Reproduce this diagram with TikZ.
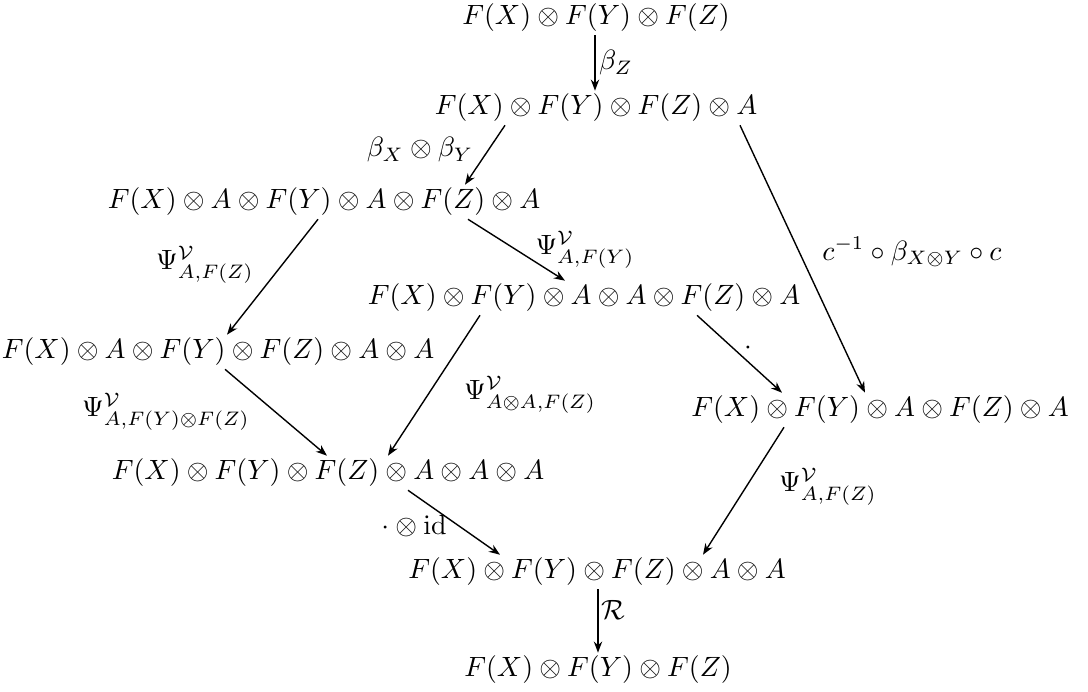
\documentclass[tikz,border=0pt]{standalone}
\usetikzlibrary{arrows.meta}
\begin{document}
\begin{tikzpicture}[x=0.0126cm,y=-0.0126cm,
  obj/.style={inner sep=1pt},
  lab/.style={inner sep=0pt},
  arr/.style={-{Stealth[length=4pt,width=3pt]}, line width=0.5pt}]
\useasboundingbox (0,0) rectangle (1088,692);
% objects
\node[obj] (n1) at (596,18)  {$F(X)\otimes F(Y)\otimes F(Z)$};
\node[obj] (n2) at (596,108) {$F(X)\otimes F(Y)\otimes F(Z)\otimes A$};
\node[obj] (n3) at (324,202) {$F(X)\otimes A\otimes F(Y)\otimes A\otimes F(Z)\otimes A$};
\node[obj] (n4) at (584,298) {$F(X)\otimes F(Y)\otimes A\otimes A\otimes F(Z)\otimes A$};
\node[obj] (n5) at (218,352) {$F(X)\otimes A\otimes F(Y)\otimes F(Z)\otimes A\otimes A$};
\node[obj] (n6) at (880,410) {$F(X)\otimes F(Y)\otimes A\otimes F(Z)\otimes A$};
\node[obj] (n7) at (328,473) {$F(X)\otimes F(Y)\otimes F(Z)\otimes A\otimes A\otimes A$};
\node[obj] (n8) at (597,572) {$F(X)\otimes F(Y)\otimes F(Z)\otimes A\otimes A$};
\node[obj] (n9) at (598,670) {$F(X)\otimes F(Y)\otimes F(Z)$};
% arrows
\draw[arr] (n1.south -| 595,0) -- (n2.north -| 595,0);
\draw[arr] (n2.south -| 505,0) -- (n3.north -| 465,0);
\draw[arr] (n2.south -| 740,0) -- (n6.north -| 865,0);
\draw[arr] (n3.south -| 318,0) -- (n5.north -| 227,0);
\draw[arr] (n3.south -| 468,0) -- (n4.north -| 565,0);
\draw[arr] (n4.south -| 697,0) -- (n6.north -| 782,0);
\draw[arr] (n4.south -| 480,0) -- (n7.north -| 388,0);
\draw[arr] (n5.south -| 225,0) -- (n7.north -| 327,0);
\draw[arr] (n6.south -| 784,0) -- (n8.north -| 703,0);
\draw[arr] (n7.south -| 408,0) -- (n8.north -| 500,0);
\draw[arr] (n8.south -| 598,0) -- (n9.north -| 598,0);
% labels
\node[lab] (l1) at (616,63) {$\beta_Z$};
\node[lab] (l2) at (420,150) {$\beta_X\otimes\beta_Y$};
\node[lab] (l3) at (912,252) {$c^{-1}\circ\beta_{X\otimes Y}\circ c$};
\node[lab] (l4) at (205,265) {$\Psi^{\mathcal{V}}_{A,F(Z)}$};
\node[lab] (l5) at (585,250) {$\Psi^{\mathcal{V}}_{A,F(Y)}$};
\node[lab] (l6) at (748,348) {$\cdot$};
\node[lab] (l7) at (530,395) {$\Psi^{\mathcal{V}}_{A\otimes A,F(Z)}$};
\node[lab] (l8) at (166,412) {$\Psi^{\mathcal{V}}_{A,F(Y)\otimes F(Z)}$};
\node[lab] (l9) at (828,487) {$\Psi^{\mathcal{V}}_{A,F(Z)}$};
\node[lab] (l10) at (414,526) {$\cdot\otimes\mathrm{id}$};
\node[lab] (l11) at (613,610) {$\mathcal{R}$};
\end{tikzpicture}
\end{document}
